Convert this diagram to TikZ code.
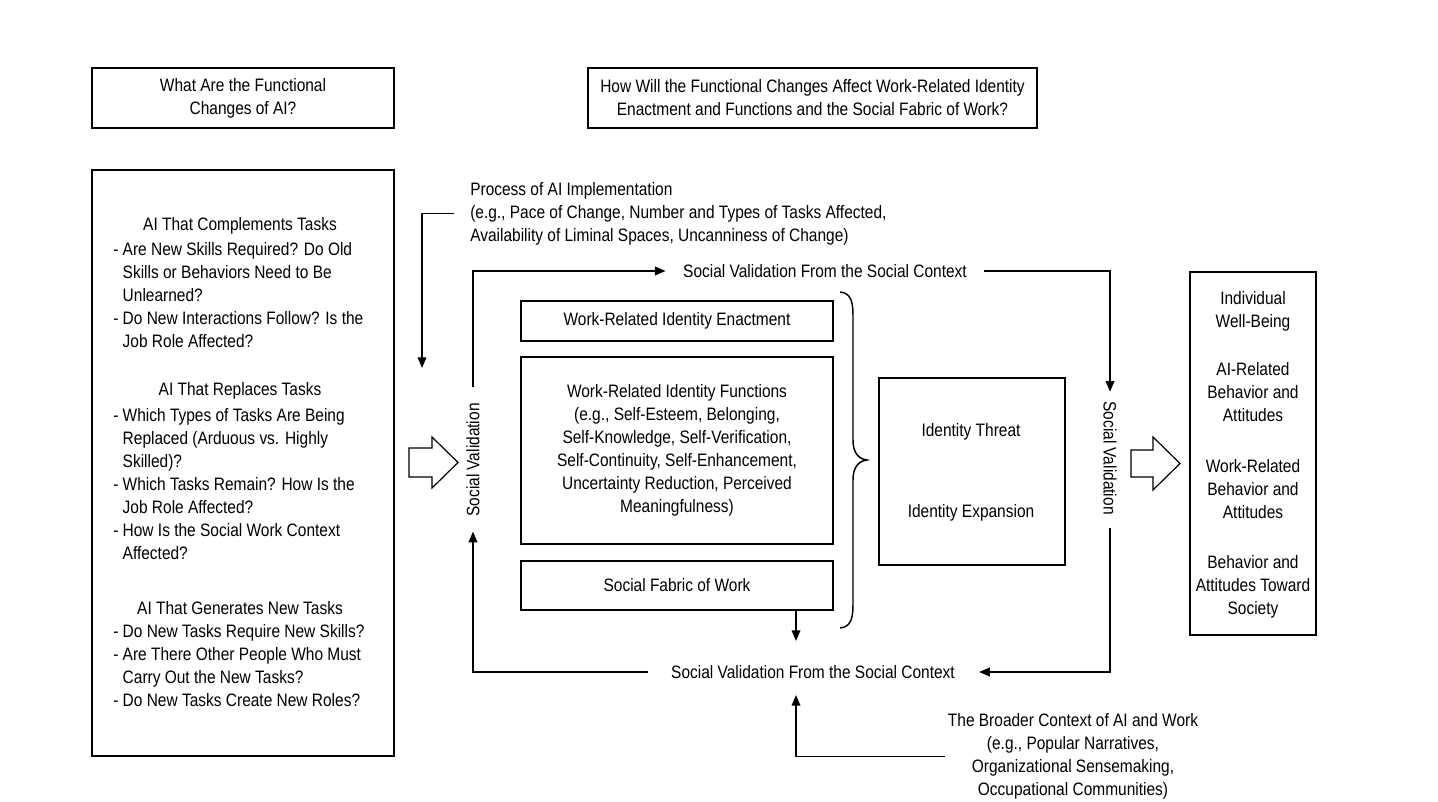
\documentclass[tikz,border=0pt]{standalone}
\usepackage{fontspec}
\setmainfont[FakeStretch=0.86]{Liberation Sans}
\usetikzlibrary{arrows.meta,calc}
\begin{document}
\begin{tikzpicture}[x=0.75pt,y=-0.75pt,
  box/.style={draw,line width=1.1pt,inner sep=0pt},
  txt/.style={font=\fontsize{13.5}{17.25}\selectfont,inner sep=0pt,align=center},
  ltxt/.style={font=\fontsize{13.5}{17.25}\selectfont,inner sep=0pt,align=left},
  conn/.style={line width=1.1pt},
  arr/.style={conn,-{Triangle[length=8pt,width=6.5pt]}},
  blockarrow/.style={draw,line width=0.9pt,fill=white}]
\useasboundingbox[fill=white] (0,0) rectangle (1438,802);
\newcommand\ind{\hphantom{- }}
% question boxes
\node[box,minimum width={302*0.75pt},minimum height={60*0.75pt}] (q1) at (243,98) {};
\node[txt] (q1t) at (q1.center) {What Are the Functional\\Changes of AI?};
\node[box,minimum width={449*0.75pt},minimum height={60*0.75pt}] (q2) at (812.5,98) {};
\node[txt] (q2t) at (q2.center) {How Will the Functional Changes Affect Work-Related Identity\\Enactment and Functions and the Social Fabric of Work?};
% left box
\node[box,minimum width={302*0.75pt},minimum height={586*0.75pt}] (left) at (243,463) {};
\node[txt] (h1) at (240,226) {AI That Complements Tasks};
\node[ltxt,anchor=north west] (l1) at (113,242) {- Are New Skills Required? Do Old\\\ind Skills or Behaviors Need to Be\\\ind Unlearned?\\- Do New Interactions Follow? Is the\\\ind Job Role Affected?};
\node[txt] (h2) at (240,391) {AI That Replaces Tasks};
\node[ltxt,anchor=north west] (l2) at (113,408) {- Which Types of Tasks Are Being\\\ind Replaced (Arduous vs. Highly\\\ind Skilled)?\\- Which Tasks Remain? How Is the\\\ind Job Role Affected?\\- How Is the Social Work Context\\\ind Affected?};
\node[txt] (h3) at (240,608) {AI That Generates New Tasks};
\node[ltxt,anchor=north west] (l3) at (113,624) {- Do New Tasks Require New Skills?\\- Are There Other People Who Must\\\ind Carry Out the New Tasks?\\- Do New Tasks Create New Roles?};
% block arrows
\draw[blockarrow] (409,448) -- (432,448) -- (432,437) -- (458,462.5) -- (432,488) -- (432,477) -- (409,477) -- cycle;
\draw[blockarrow] (1131,450) -- (1153,450) -- (1153,437) -- (1180,463.5) -- (1153,490) -- (1153,477) -- (1131,477) -- cycle;
% process
\node[ltxt,anchor=north west] (proc) at (470,182) {Process of AI Implementation\\(e.g., Pace of Change, Number and Types of Tasks Affected,\\Availability of Liminal Spaces, Uncanniness of Change)};
\coordinate (pend) at (422,368);
\draw[arr,shorten <=12pt] (proc.west) -| (pend);
% center boxes
\node[box,minimum width={312*0.75pt},minimum height={40*0.75pt}] (enact) at (677,321) {};
\node[txt] (enactt) at (enact.center) {Work-Related Identity Enactment};
\node[box,minimum width={312*0.75pt},minimum height={187*0.75pt}] (func) at (677,450.5) {};
\node[txt] (funct) at (func.center) {Work-Related Identity Functions\\(e.g., Self-Esteem, Belonging,\\Self-Knowledge, Self-Verification,\\Self-Continuity, Self-Enhancement,\\Uncertainty Reduction, Perceived\\Meaningfulness)};
\node[box,minimum width={312*0.75pt},minimum height={49*0.75pt}] (fabric) at (677,585.5) {};
\node[txt] (fabrict) at (fabric.center) {Social Fabric of Work};
% brace
\draw[line width=1.1pt] (840,292) .. controls (850,293) and (853,300) .. (853,315) -- (853,440) .. controls (853,452) and (858,459) .. (867,460) .. controls (858,461) and (853,468) .. (853,480) -- (853,605) .. controls (853,620) and (850,627) .. (840,628);
% identity box
\node[box,minimum width={186*0.75pt},minimum height={187*0.75pt}] (ident) at (972,471.5) {};
\node[txt] (threat) at (971,432) {Identity Threat};
\node[txt] (expan) at (971,513) {Identity Expansion};
% outcomes
\node[box,minimum width={126*0.75pt},minimum height={363*0.75pt}] (outc) at (1253,453.5) {};
\node[txt] (outct) at (1253,455) {Individual\\Well-Being\\[19pt]AI-Related\\Behavior and\\Attitudes\\[21pt]Work-Related\\Behavior and\\Attitudes\\[20pt]Behavior and\\Attitudes Toward\\Society};
% social validation labels
\node[txt,rotate=90] (svl) at (473,460) {Social Validation};
\node[txt,rotate=-90] (svr) at (1110,458) {Social Validation};
\node[txt] (svt) at (825,271) {Social Validation From the Social Context};
\node[txt] (svb) at (813,672) {Social Validation From the Social Context};
\node[txt] (broad) at (1073,756.5) {The Broader Context of AI and Work\\(e.g., Popular Narratives,\\Organizational Sensemaking,\\Occupational Communities)};
% connectors
\draw[arr,shorten <=12pt,shorten >=13pt] (svl.east) |- (svt.west);
\draw[arr,shorten <=13pt,shorten >=7pt] (svt.east) -| (svr.west);
\draw[arr,shorten <=10pt,shorten >=18pt] (svr.east) |- (svb.east);
\draw[arr,shorten <=17pt,shorten >=11pt] (svb.west) -| (svl.west);
\coordinate (fa) at (796,610);
\coordinate (fb) at (796,641);
\draw[arr] (fa) -- (fb);
\coordinate (bt) at (796,695);
\draw[arr,shorten <=2pt] (broad.west) -| (bt);
\end{tikzpicture}
\end{document}
